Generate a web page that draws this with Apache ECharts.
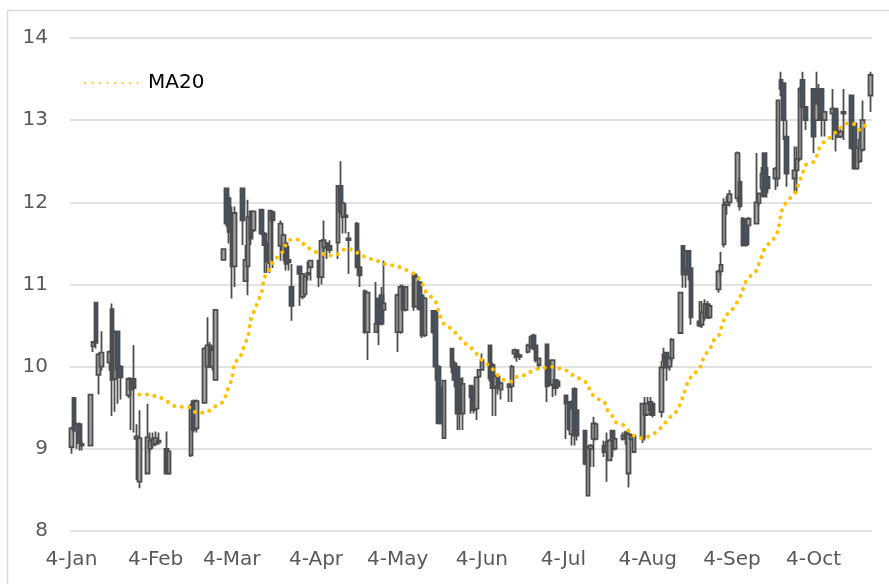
<!DOCTYPE html>
<html><head><meta charset="utf-8">
<script src="https://cdn.jsdelivr.net/npm/echarts@6/dist/echarts.min.js"></script>
<style>html,body{margin:0;padding:0;background:#fff}#c{width:889px;height:584px}</style>
</head><body><div id="c"></div>
<script>
const monthNames = ['Jan','Feb','Mar','Apr','May','Jun','Jul','Aug','Sep','Oct','Nov','Dec'];
const yTicks = [8, 9, 10, 11, 12, 13, 14];

const tradeDates = [
'01-04','01-05','01-06','01-07','01-08','01-11','01-12','01-13','01-14','01-15','01-18','01-19','01-20','01-21','01-22','01-25','01-26','01-27','01-28','01-29',
'02-01','02-02','02-03','02-04','02-05','02-08','02-09','02-17','02-18','02-19','02-22','02-23','02-24','02-25','02-26',
'03-01','03-02','03-03','03-04','03-05','03-08','03-09','03-10','03-11','03-12','03-15','03-16','03-17','03-18','03-19','03-22','03-23','03-24','03-25','03-26','03-29','03-30','03-31',
'04-01','04-02','04-05','04-06','04-07','04-08','04-09','04-12','04-13','04-14','04-15','04-16','04-19','04-20','04-22','04-23','04-26','04-27','04-28','04-29',
'05-04','05-05','05-06','05-07','05-10','05-11','05-12','05-13','05-14','05-17','05-18','05-19','05-20','05-21','05-24','05-25','05-26','05-27','05-28','05-31',
'06-01','06-02','06-03','06-04','06-07','06-08','06-09','06-10','06-11','06-14','06-15','06-16','06-17','06-18','06-21','06-22','06-23','06-24','06-25','06-28','06-29','06-30',
'07-01','07-02','07-05','07-06','07-07','07-08','07-09','07-12','07-13','07-14','07-15','07-16','07-19','07-20','07-21','07-22','07-23','07-26','07-27','07-28','07-29','07-30',
'08-02','08-03','08-04','08-05','08-06','08-09','08-10','08-11','08-12','08-13','08-16','08-17','08-18','08-19','08-20','08-23','08-24','08-25','08-26','08-27','08-30','08-31',
'09-01','09-02','09-03','09-06','09-07','09-08','09-09','09-10','09-13','09-14','09-15','09-16','09-17','09-20','09-21','09-22','09-23','09-24','09-27','09-28','09-29','09-30',
'10-01','10-04','10-05','10-06','10-07','10-08','10-11','10-12','10-13','10-14','10-15','10-18','10-19','10-20','10-21','10-22','10-25'
];
const opens = [
9.02,9.62,9.22,9.30,9.06,9.04,10.25,10.78,9.90,10.00,10.05,10.70,9.85,10.43,10.00,9.65,9.85,9.85,9.12,8.60,
8.70,9.00,9.05,9.06,9.08,9.00,8.70,8.92,9.58,9.25,9.56,10.00,10.26,10.00,9.84,
11.30,12.17,12.05,11.85,11.22,12.17,11.04,11.22,11.89,11.66,11.91,11.62,11.50,11.26,11.88,11.47,11.40,11.50,11.30,10.97,11.22,10.85,10.88,
11.12,11.21,11.29,11.09,11.45,11.50,11.47,11.51,12.20,11.82,11.82,11.56,11.74,11.21,10.92,10.42,10.42,10.83,10.87,10.69,
10.42,10.42,10.97,10.69,11.12,10.73,11.03,10.87,10.38,10.68,10.68,10.00,9.75,9.13,10.22,10.04,10.00,9.85,9.43,9.77,
9.75,9.49,9.88,9.96,10.26,10.02,9.76,9.88,9.72,9.75,9.76,10.16,10.20,10.14,10.18,10.24,10.38,10.26,10.02,10.27,9.94,9.78,
9.84,9.82,9.65,9.57,9.18,9.73,9.47,9.22,8.43,9.00,9.12,9.12,9.04,8.96,8.86,9.22,9.00,9.12,9.20,8.70,9.12,8.96,
9.14,9.41,9.42,9.57,9.55,9.45,10.15,10.17,10.00,10.10,10.41,11.47,11.20,11.41,11.20,10.55,10.51,10.60,10.76,10.60,10.94,11.16,
11.49,11.97,12.00,12.05,12.25,11.80,11.78,11.72,11.74,11.99,12.17,12.60,12.31,12.29,12.29,13.49,13.45,12.80,12.29,12.39,12.53,13.49,
13.16,13.38,13.00,13.38,13.38,13.00,13.08,13.14,12.80,12.80,13.08,13.30,12.96,12.41,12.50,12.64,13.30
];
const closes = [
9.25,9.23,9.30,9.07,9.04,9.66,10.30,10.29,10.15,10.17,10.18,9.84,10.42,9.96,9.87,9.85,9.72,9.74,9.15,9.13,
9.14,9.10,9.12,9.13,9.10,8.70,8.97,9.52,9.23,9.58,10.22,10.26,10.00,10.20,10.69,
11.43,11.74,11.64,11.22,11.87,11.78,11.30,11.82,11.56,11.89,11.62,11.48,11.28,11.90,11.78,11.74,11.60,11.25,11.27,10.74,11.13,11.13,11.10,
11.14,11.29,11.09,11.53,11.54,11.44,11.42,12.20,11.88,11.99,11.84,11.54,11.21,11.11,10.42,10.90,10.52,10.52,10.52,10.77,
10.87,10.97,10.69,10.97,10.73,11.09,10.70,10.38,10.83,10.42,10.00,9.31,9.31,9.83,10.00,9.84,9.43,9.43,9.79,9.63,
9.47,9.87,9.96,10.08,9.86,9.74,9.88,9.74,9.80,9.78,10.00,10.20,10.12,10.12,10.26,10.36,10.22,10.08,10.10,9.76,9.78,10.08,
9.74,9.76,9.55,9.24,9.49,9.16,9.16,8.82,9.02,9.04,9.31,9.30,8.96,9.08,9.10,9.12,9.12,9.16,9.12,9.18,9.16,9.16,
9.55,9.55,9.55,9.47,9.41,9.99,10.07,9.99,10.10,10.33,10.90,11.12,11.41,11.12,10.60,10.50,10.66,10.76,10.60,10.74,11.16,11.24,
11.97,12.00,12.10,12.60,11.95,11.48,11.48,11.80,12.00,12.11,12.35,12.07,12.17,12.41,13.24,13.38,13.00,12.35,12.39,12.53,13.38,13.16,
13.00,12.80,13.20,13.20,13.00,13.10,13.14,12.84,12.86,12.86,13.10,12.66,12.41,12.66,12.76,13.00,13.55
];
const lows = [
8.94,9.20,9.00,8.98,8.98,9.03,10.18,10.22,9.66,9.95,9.95,9.40,9.45,9.55,9.60,9.62,9.23,9.20,8.62,8.52,
8.70,8.95,9.00,9.03,9.05,8.70,8.70,8.90,9.20,9.20,9.55,10.00,9.98,9.95,9.84,
11.30,11.70,11.50,10.83,10.97,11.48,11.03,10.87,11.48,11.64,11.60,11.14,11.14,11.14,11.20,11.29,11.28,11.17,11.17,10.56,10.74,10.82,10.85,
11.05,11.05,10.97,11.00,11.40,11.31,11.38,11.31,11.85,11.62,11.62,11.13,11.20,10.97,10.40,10.08,10.42,10.26,10.50,10.68,
10.18,10.40,10.68,10.67,10.68,10.72,10.68,10.35,10.36,10.40,9.83,9.30,9.30,9.12,9.92,9.75,9.23,9.23,9.23,9.43,
9.43,9.35,9.87,9.95,9.82,9.40,9.40,9.66,9.60,9.57,9.57,10.10,10.06,10.08,10.16,10.22,10.20,10.05,9.96,9.57,9.76,9.63,
9.65,9.74,9.12,9.22,9.04,9.04,9.10,8.80,8.43,8.78,8.78,9.10,8.90,8.60,8.85,8.90,8.98,9.10,9.05,8.53,9.10,8.95,
9.07,9.10,9.40,9.40,9.38,9.38,9.99,9.83,9.95,10.05,10.40,10.96,10.96,11.05,10.51,10.48,10.47,10.56,10.58,10.58,10.90,11.10,
11.45,11.85,11.95,12.00,11.90,11.46,11.46,11.48,11.73,11.95,12.07,12.06,12.11,12.15,12.19,13.29,12.76,12.19,12.11,12.11,12.50,13.15,
12.88,12.60,12.99,13.00,12.80,12.80,12.76,12.62,12.78,12.78,12.76,12.64,12.40,12.40,12.48,12.62,13.10
];
const highs = [
9.27,9.63,9.32,9.32,9.10,9.66,10.31,10.79,10.17,10.43,10.20,10.77,10.44,10.44,10.02,9.87,9.87,10.26,9.30,9.47,
9.55,9.20,9.20,9.21,9.20,9.21,8.98,9.55,9.60,9.60,10.24,10.60,10.30,10.25,10.70,
11.44,12.17,12.08,11.95,11.95,12.17,11.48,12.03,11.90,11.90,11.92,11.64,11.52,11.91,11.90,11.78,11.62,11.52,11.47,11.25,11.23,11.14,11.12,
11.28,11.30,11.30,11.55,11.78,11.52,11.54,12.20,12.50,12.00,11.99,11.64,11.76,11.41,10.94,10.91,11.03,10.84,10.97,11.29,
10.89,11.00,11.00,10.98,11.13,11.13,11.04,10.88,10.85,10.69,10.69,10.02,9.76,9.84,10.23,10.07,10.01,9.87,9.87,9.78,
9.76,9.88,9.97,10.16,10.27,10.05,9.90,9.90,9.82,9.80,10.02,10.22,10.21,10.16,10.28,10.38,10.40,10.27,10.11,10.28,10.08,10.09,
9.85,9.84,9.66,9.58,9.59,9.75,9.48,9.23,9.03,9.06,9.39,9.32,9.10,9.20,9.12,9.23,9.14,9.20,9.22,9.24,9.18,9.18,
9.56,9.63,9.63,9.63,9.56,10.07,10.23,10.18,10.12,10.35,10.91,11.48,11.42,11.42,11.21,10.80,10.80,10.82,10.80,10.76,11.18,11.40,
12.05,12.08,12.15,12.62,12.30,11.82,11.80,11.82,12.60,12.12,12.43,12.61,12.43,12.43,13.25,13.59,13.46,13.00,12.68,12.68,13.40,13.59,
13.17,13.39,13.59,13.44,13.39,13.11,13.38,13.15,13.12,12.90,13.38,13.31,12.97,12.68,12.90,13.24,13.59
];

const maDates = ['01-29','02-01','02-04','02-06','02-09','02-11','02-14','02-17','02-19','02-22','02-24','02-26','03-01','03-02','03-04','03-05','03-07','03-08','03-10','03-11','03-13','03-15','03-16','03-18','03-19','03-21','03-23','03-24','03-26','03-29','03-31','04-02','04-05','04-07','04-10','04-13','04-15','04-18','04-20','04-23','04-26','04-28','05-01','05-04','05-06','05-09','05-11','05-13','05-14','05-16','05-18','05-19','05-21','05-23','05-25','05-27','05-29','05-31','06-02','06-04','06-06','06-08','06-10','06-12','06-15','06-17','06-20','06-22','06-25','06-28','07-01','07-03','07-06','07-08','07-11','07-13','07-14','07-16','07-19','07-20','07-22','07-23','07-26','07-28','07-30','08-02','08-05','08-07','08-09','08-11','08-13','08-15','08-16','08-17','08-19','08-21','08-23','08-24','08-25','08-27','08-28','08-30','08-31','09-01','09-02','09-04','09-07','09-08','09-09','09-11','09-13','09-14','09-15','09-16','09-18','09-20','09-21','09-22','09-23','09-25','09-27','09-28','09-29','09-30','10-01','10-04','10-05','10-06','10-08','10-10','10-12','10-14','10-16','10-19','10-21','10-23'];
const maValues = [9.66,9.66,9.64,9.62,9.56,9.52,9.51,9.50,9.44,9.44,9.47,9.52,9.58,9.68,9.85,10.04,10.11,10.20,10.38,10.57,10.74,10.91,11.08,11.19,11.28,11.34,11.41,11.49,11.55,11.54,11.47,11.43,11.38,11.37,11.35,11.39,11.44,11.41,11.37,11.32,11.30,11.26,11.24,11.22,11.19,11.15,11.10,11.02,10.93,10.86,10.79,10.68,10.52,10.48,10.42,10.35,10.28,10.23,10.16,10.08,10.03,9.97,9.89,9.84,9.82,9.88,9.90,9.94,9.98,9.99,10.00,9.97,9.94,9.88,9.84,9.78,9.69,9.62,9.57,9.48,9.40,9.33,9.29,9.22,9.16,9.13,9.16,9.20,9.26,9.34,9.41,9.47,9.55,9.64,9.83,9.91,9.97,10.06,10.14,10.22,10.31,10.37,10.47,10.57,10.63,10.69,10.85,10.94,11.03,11.11,11.17,11.26,11.35,11.44,11.51,11.58,11.67,11.86,11.95,12.04,12.10,12.18,12.27,12.36,12.45,12.49,12.55,12.65,12.74,12.79,12.85,12.91,12.96,12.95,12.88,12.94];

// calendar-day categories (date axis)
const days = [];
for (let t = Date.UTC(2021,0,4); t <= Date.UTC(2021,9,25); t += 86400000) {
  days.push(new Date(t).toISOString().slice(5,10));
}
const dayIndex = {};
days.forEach((d,i) => dayIndex[d] = i);
const candleData = days.map(() => '-');
tradeDates.forEach((d,i) => { candleData[dayIndex[d]] = [opens[i], closes[i], lows[i], highs[i]]; });
const maData = days.map(() => null);
maDates.forEach((d,i) => { maData[dayIndex[d]] = maValues[i]; });

const FONT = '"DejaVu Sans", Verdana, sans-serif';
const chart = echarts.init(document.getElementById('c'), null, {renderer:'canvas'});
chart.setOption({
  animation: false,
  backgroundColor: '#fff',
  graphic: [{type:'rect', silent:true, shape:{x:7.5, y:10.5, width:1000, height:1000}, style:{fill:null, stroke:'#d9d9d9', lineWidth:1.5}}],
  grid: {left:70, right:17, top:38, bottom:53, containLabel:false},
  legend: {
    data: ['MA20'], left: 79, top: 68, itemWidth: 54, itemHeight: 14,
    itemStyle: {opacity: 0},
    textStyle: {fontFamily: FONT, fontSize: 20, color: '#000', padding:[0,0,0,4]}
  },
  xAxis: {
    type: 'category', data: days, boundaryGap: true,
    axisLine: {show:false}, axisTick: {show:false}, splitLine:{show:false},
    axisLabel: {
      interval: (i, v) => v.slice(3) === '04',
      formatter: v => '4-' + monthNames[parseInt(v.slice(0,2),10)-1],
      color: '#595959', fontFamily: FONT, fontSize: 20, margin: 19
    }
  },
  yAxis: {
    type: 'value', min: yTicks[0], max: yTicks[yTicks.length-1], interval: 1,
    axisLine: {show:false}, axisTick: {show:false},
    axisLabel: {color:'#595959', fontFamily: FONT, fontSize: 20, margin: 22},
    splitLine: {lineStyle: {color:'#d9d9d9', width:1.5}}
  },
  series: [
    {
      name: 'Price', type: 'candlestick', data: candleData, barWidth: 4,
      itemStyle: {color:'#A6A6A6', color0:'#44546A', borderColor:'#4D4D4D', borderColor0:'#4D4D4D', borderWidth:1.8}
    },
    {
      name: 'MA20', type: 'line', data: maData, connectNulls: true, symbol: 'none', smooth: 0.3, z: 5,
      itemStyle: {color:'#FFC000'},
      lineStyle: {color:'#FFC000', width:4, type:[0.01, 7.5], cap:'round'}
    }
  ]
});
</script></body></html>
